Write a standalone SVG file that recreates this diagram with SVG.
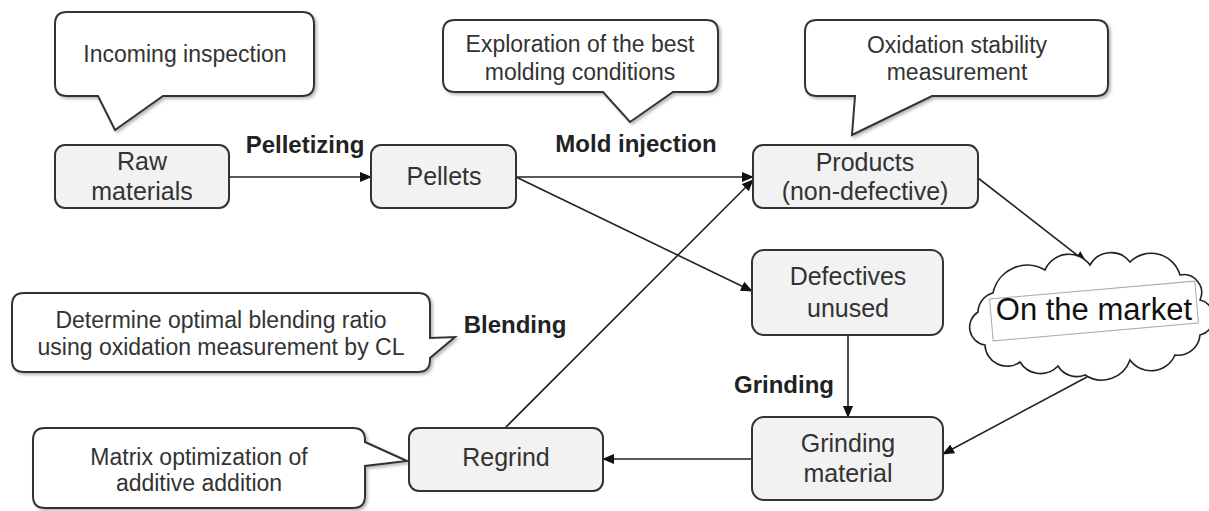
<svg xmlns="http://www.w3.org/2000/svg" width="1209" height="511" viewBox="0 0 1209 511">
<style>
.node{fill:#f2f2f2;stroke:#333;stroke-width:2}
.call{fill:#fff;stroke:#333;stroke-width:2;filter:url(#sh)}
.t{font-family:"Liberation Sans",Arial,sans-serif;font-size:25px;fill:#333;text-anchor:middle}
.c{font-family:"Liberation Sans",Arial,sans-serif;font-size:23px;fill:#333;text-anchor:middle}
.b{font-family:"Liberation Sans",Arial,sans-serif;font-size:24px;font-weight:bold;fill:#222;text-anchor:middle}
.e{fill:none;stroke:#222;stroke-width:1.6;marker-end:url(#ah)}
</style>
<defs>
<marker id="ah" markerWidth="12" markerHeight="10" refX="11" refY="5" orient="auto" markerUnits="userSpaceOnUse">
<path d="M0,0 L12,5 L0,10 Z" fill="#111"/>
</marker>
<filter id="sh" x="-5%" y="-5%" width="110%" height="120%">
<feDropShadow dx="2" dy="2" stdDeviation="1.5" flood-color="#888" flood-opacity="0.6"/>
</filter>
</defs>
<rect width="1209" height="511" fill="#fff"/>

<g id="connectors">
<line class="e" x1="229" y1="177" x2="371" y2="177"/>
<line class="e" x1="516" y1="177" x2="753" y2="177"/>
<line class="e" x1="516" y1="177" x2="752" y2="291"/>
<line class="e" x1="505" y1="428" x2="753" y2="180"/>
<line class="e" x1="978" y1="178" x2="1086" y2="262"/>
<line class="e" x1="848" y1="335" x2="848" y2="417"/>
<line class="e" x1="1087" y1="377" x2="943" y2="454"/>
<line class="e" x1="752" y1="459" x2="603" y2="459"/>
<text class="b" x="305" y="153">Pelletizing</text>
<text class="b" x="636" y="152">Mold injection</text>
<text class="b" x="515" y="333">Blending</text>
<text class="b" x="784" y="393">Grinding</text>
</g>

<g id="callout-incoming">
<path class="call" d="M67,12 H302 Q314,12 314,24 V84 Q314,96 302,96 H163 L115,130 L98,96 H67 Q55,96 55,84 V24 Q55,12 67,12 Z"/>
<text class="c" x="185" y="62">Incoming inspection</text>
</g>
<g id="callout-exploration">
<path class="call" d="M455,20 H706 Q718,20 718,32 V80 Q718,92 706,92 H673 L630,122 L603,92 H455 Q443,92 443,80 V32 Q443,20 455,20 Z"/>
<text class="c" x="580" y="52">Exploration of the best</text>
<text class="c" x="580" y="80">molding conditions</text>
</g>
<g id="callout-oxidation">
<path class="call" d="M817,20 H1096 Q1108,20 1108,32 V84 Q1108,96 1096,96 H932 L852,135 L855,96 H817 Q805,96 805,84 V32 Q805,20 817,20 Z"/>
<text class="c" x="957" y="53">Oxidation stability</text>
<text class="c" x="957" y="80">measurement</text>
</g>
<g id="callout-blending">
<path class="call" d="M24,293 H418 Q430,293 430,305 V338 L455,337 L430,358 V360 Q430,372 418,372 H24 Q12,372 12,360 V305 Q12,293 24,293 Z"/>
<text class="c" x="221" y="328">Determine optimal blending ratio</text>
<text class="c" x="221" y="355">using oxidation measurement by CL</text>
</g>
<g id="callout-matrix">
<path class="call" d="M45,428 H353 Q365,428 365,440 V442 L407,461 L365,466 V496 Q365,508 353,508 H45 Q33,508 33,496 V440 Q33,428 45,428 Z"/>
<text class="c" x="199" y="465">Matrix optimization of</text>
<text class="c" x="199" y="491">additive addition</text>
</g>

<g id="raw-materials">
<rect class="node" x="55" y="145" width="174" height="63" rx="10"/>
<text class="t" x="142" y="170">Raw</text>
<text class="t" x="142" y="200">materials</text>
</g>
<g id="pellets">
<rect class="node" x="371" y="145" width="145" height="63" rx="10"/>
<text class="t" x="444" y="185">Pellets</text>
</g>
<g id="products">
<rect class="node" x="753" y="145" width="225" height="63" rx="10"/>
<text class="t" x="865" y="171">Products</text>
<text class="t" x="865" y="200">(non-defective)</text>
</g>
<g id="defectives">
<rect class="node" x="752" y="250" width="191" height="85" rx="12"/>
<text class="t" x="848" y="285">Defectives</text>
<text class="t" x="848" y="317">unused</text>
</g>
<g id="grinding-material">
<rect class="node" x="752" y="417" width="191" height="83" rx="12"/>
<text class="t" x="848" y="452">Grinding</text>
<text class="t" x="848" y="482">material</text>
</g>
<g id="regrind">
<rect class="node" x="409" y="428" width="194" height="63" rx="10"/>
<text class="t" x="506" y="466">Regrind</text>
</g>
<g id="on-the-market">
<path d="M985,345 A18,18 0 0 1 978,312 A20,20 0 0 1 993,293 A35,35 0 0 1 1045,270 A26,26 0 0 1 1090,265 A24,24 0 0 1 1130,262 A30,30 0 0 1 1180,275 A18,18 0 0 1 1200,300 A18,18 0 0 1 1200,335 A22,22 0 0 1 1175,355 A26,26 0 0 1 1130,360 A30,30 0 0 1 1085,375 A22,22 0 0 1 1058,366 A24,24 0 0 1 1020,362 A22,22 0 0 1 985,345 Z" fill="#fff" stroke="#222" stroke-width="1.6"/>
<rect x="991" y="290" width="206" height="42" fill="#fff" stroke="#aaa" stroke-width="1" transform="rotate(-5 1094 311)"/>
<text x="1094" y="320" font-family="Liberation Sans, Arial, sans-serif" font-size="31" fill="#111" text-anchor="middle">On the market</text>
</g>
</svg>
